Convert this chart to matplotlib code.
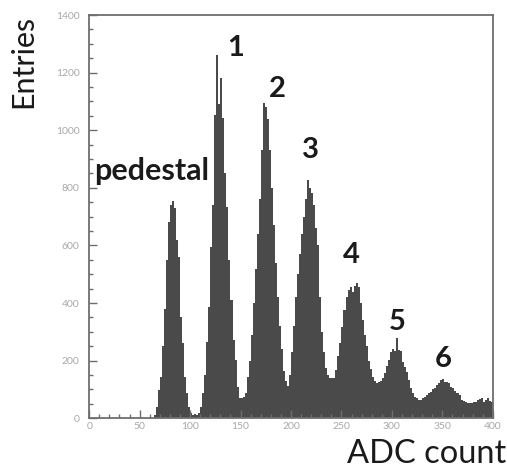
import numpy as np
import matplotlib
matplotlib.use("Agg")
import matplotlib.pyplot as plt
from matplotlib.ticker import MultipleLocator

# ADC spectrum, 2-count bins from 0 to 400
bin_width = 2
adc_min = 0
entries = [
    # 0 - 62
    0, 0, 0, 0, 0, 0, 0, 0, 0, 0, 0, 0, 0, 0, 0, 0,
    0, 0, 0, 0, 0, 0, 0, 0, 0, 0, 0, 0, 0, 0, 0, 0,
    # 64 - 108 (pedestal)
    10, 40, 98, 142, 250, 378, 550, 683, 740, 755, 729, 619,
    561, 353, 261, 145, 87, 40, 17, 12, 14, 12, 20,
    # 110 - 154 (1 p.e.)
    40, 87, 150, 266, 387, 596, 740, 1053, 1262, 1090, 1180, 1042,
    851, 735, 550, 411, 272, 203, 110, 69, 72, 73, 87,
    # 156 - 198 (2 p.e.)
    145, 200, 290, 400, 520, 640, 760, 930, 1094, 1080, 1040,
    930, 800, 670, 540, 420, 320, 240, 165, 130, 112, 150,
    # 200 - 242 (3 p.e.)
    230, 320, 420, 500, 570, 640, 700, 760, 827, 800, 781,
    740, 660, 600, 420, 300, 230, 175, 150, 140, 140, 140,
    # 244 - 290 (4 p.e.)
    168, 215, 261, 318, 376, 420, 445, 455, 440, 460, 470,
    455, 400, 340, 290, 250, 200, 170, 145, 130, 122, 125,
    130, 140,
    # 292 - 334 (5 p.e.)
    157, 180, 203, 231, 240, 235, 278, 237, 233, 197, 179,
    162, 133, 105, 87, 75, 70, 64, 64, 70, 75, 80,
    # 336 - 398 (6 p.e. and tail)
    87, 92, 100, 105, 115, 122, 133, 135, 127, 125, 122,
    110, 105, 95, 88, 80, 64, 60, 58, 54, 52, 52,
    55, 58, 62, 66, 69, 58, 62, 69, 60, 58,
]

peak_labels = ["pedestal", "1", "2", "3", "4", "5", "6"]
label_x = [62, 145, 186, 219, 259.5, 305.5, 351]
label_y = [827, 1258, 1117, 904, 538, 307, 178]

x_ticks = [0, 50, 100, 150, 200, 250, 300, 350, 400]
y_ticks = [0, 200, 400, 600, 800, 1000, 1200, 1400]

edges = adc_min + bin_width * np.arange(len(entries) + 1)

fig = plt.figure(figsize=(5.07, 4.70), dpi=100)
ax = fig.add_axes([0.176, 0.110, 0.796, 0.858])

ax.stairs(entries, edges, fill=True, color="#4a4a4a", linewidth=0)

ax.set_xlim(0, 400)
ax.set_ylim(0, 1400)
ax.set_xticks(x_ticks)
ax.set_yticks(y_ticks)
ax.xaxis.set_minor_locator(MultipleLocator(10))
ax.yaxis.set_minor_locator(MultipleLocator(50))

frame_col = "#6e6e6e"
for s in ax.spines.values():
    s.set_color(frame_col)
    s.set_linewidth(1.3)

ax.tick_params(which="both", direction="in", top=False, right=False,
               color=frame_col, width=1.0)
ax.tick_params(which="major", length=6, labelsize=7.5, labelcolor="#a8a8a8")
ax.tick_params(axis="y", which="major", pad=7)
ax.tick_params(axis="x", which="major", pad=3)
ax.tick_params(which="minor", length=3)
for lab in ax.get_xticklabels() + ax.get_yticklabels():
    lab.set_family("Lato")

fig.text(0.045, 0.968, "Entries", rotation=90, ha="center", va="top",
         fontsize=22, family="Lato", color="#1a1a1a")
fig.text(0.998, 0.002, "ADC count", ha="right", va="bottom",
         fontsize=23.5, family="Lato", color="#1a1a1a")

for i, (txt, xx, yy) in enumerate(zip(peak_labels, label_x, label_y)):
    ax.text(xx, yy, txt, ha="center", va="baseline",
            fontsize=22 if i == 0 else 21,
            fontweight="bold", family="Lato", color="#1a1a1a")

fig.savefig("out.png", dpi=100)
